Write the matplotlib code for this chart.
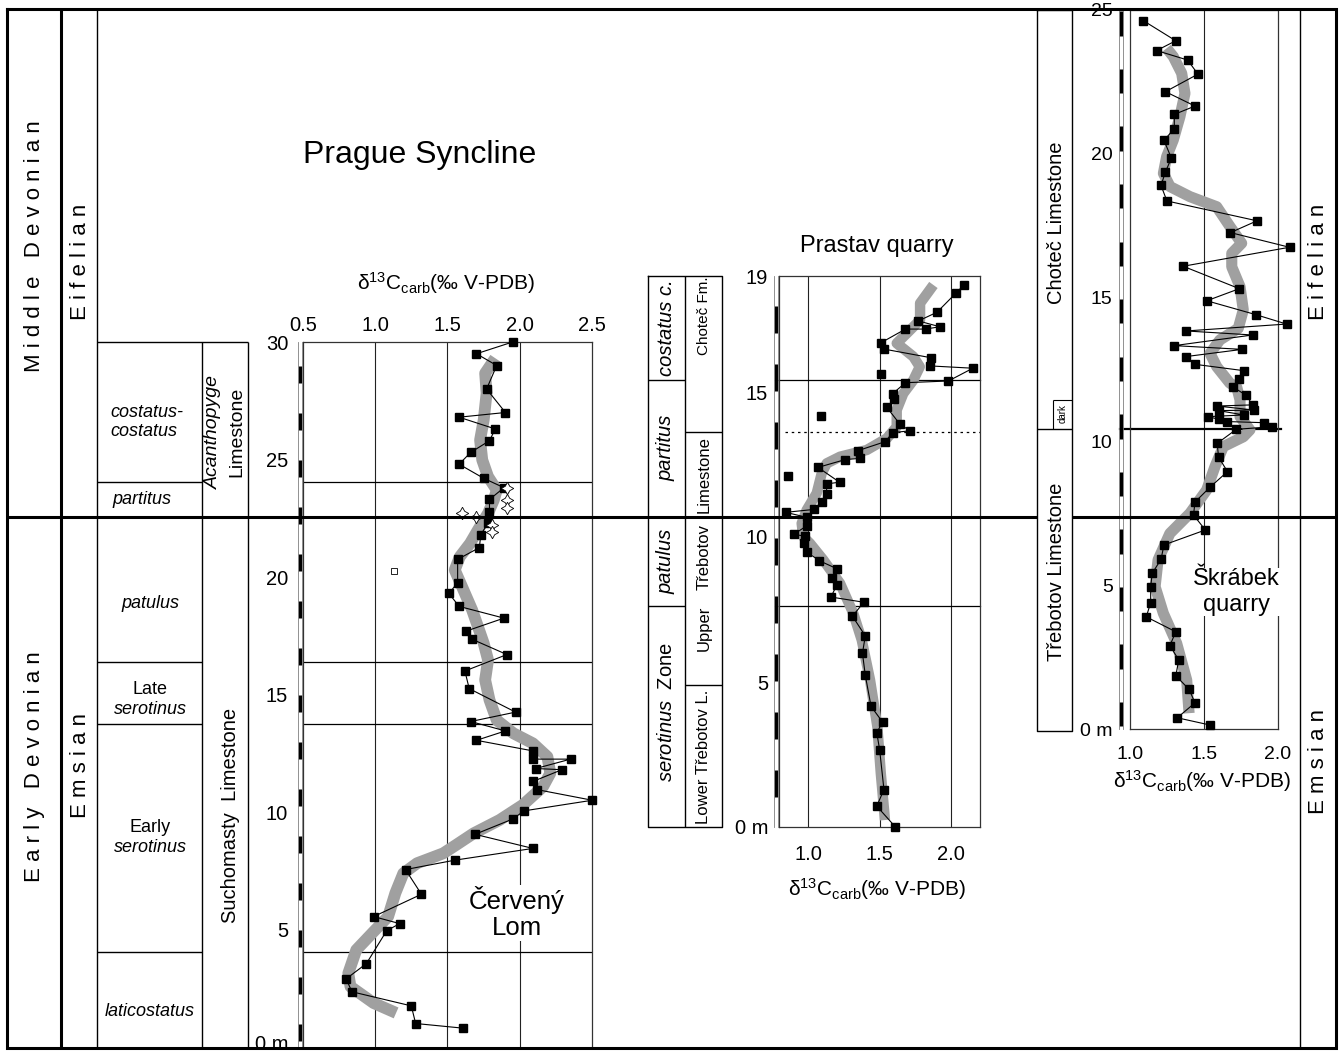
import matplotlib
matplotlib.use("Agg")
import matplotlib.pyplot as plt
from matplotlib.transforms import ScaledTranslation

plt.rcParams['font.family'] = ['Liberation Sans', 'DejaVu Sans']
plt.rcParams['mathtext.fontset'] = 'custom'
plt.rcParams['mathtext.rm'] = 'Liberation Sans'
plt.rcParams['mathtext.it'] = 'Liberation Sans:italic'
plt.rcParams['mathtext.default'] = 'regular'

# ---------------- Červený Lom section ----------------
cl_d13c = [1.61, 1.28, 1.25, 0.84, 0.80, 0.94, 1.08, 1.17, 0.99, 1.32,
           1.21, 1.55, 2.09, 1.69, 1.95, 2.03, 2.50, 2.12, 2.09, 2.29,
           2.11, 2.35, 2.09, 2.09, 1.70, 1.90, 1.66, 1.97, 1.65, 1.62,
           1.91, 1.67, 1.63, 1.89, 1.58, 1.51, 1.57, 1.57, 1.72, 1.73,
           1.78, 1.79, 1.79, 1.89, 1.75, 1.58, 1.66, 1.79, 1.83, 1.58,
           1.90, 1.77, 1.84, 1.70, 1.95]
cl_depth = [0.8, 1.0, 1.75, 2.35, 2.9, 3.55, 4.95, 5.25, 5.55, 6.5,
            7.55, 7.95, 8.45, 9.05, 9.7, 10.05, 10.5, 10.95, 11.3, 11.8,
            11.85, 12.25, 12.25, 12.6, 13.05, 13.45, 13.85, 14.25, 15.25, 16.0,
            16.7, 17.35, 17.7, 18.25, 18.75, 19.3, 19.76, 20.75, 21.25, 21.8,
            22.3, 22.75, 23.3, 23.8, 24.2, 24.8, 25.3, 25.8, 26.3, 26.8,
            27.0, 28.0, 29.0, 29.5, 30.0]
cl_trend_d13c = [1.145, 0.99, 0.83, 0.815, 0.87, 0.99, 1.09, 1.14, 1.195, 1.29,
                 1.47, 1.56, 1.68, 1.86, 2.02, 2.16, 2.21, 2.19, 2.09, 1.955,
                 1.84, 1.79, 1.76, 1.78, 1.75, 1.71, 1.67, 1.61, 1.55, 1.585,
                 1.656, 1.71, 1.78, 1.82, 1.84, 1.78, 1.74, 1.725, 1.75, 1.77,
                 1.76, 1.83]
cl_trend_depth = [1.45, 1.87, 2.57, 3.14, 4.13, 4.91, 5.55, 6.55, 7.39, 7.82,
                  8.24, 8.6, 9.09, 9.66, 10.3, 11.08, 11.65, 12.35, 12.92, 13.35,
                  13.91, 14.77, 15.62, 16.47, 17.18, 17.89, 18.6, 19.45, 20.3, 20.86,
                  21.43, 22.0, 22.71, 23.28, 23.7, 24.27, 24.98, 25.83, 26.68, 27.82,
                  28.67, 29.31]
cl_star_d13c = [1.91, 1.91, 1.91, 1.60, 1.70, 1.81, 1.81]
cl_star_depth = [23.77, 23.28, 22.92, 22.71, 22.57, 22.21, 21.90]
cl_open_d13c = [1.13]
cl_open_depth = [20.27]
cl_zone_bounds = [4.03, 13.75, 16.4, 24.05]
cl_xticks = [0.5, 1.0, 1.5, 2.0, 2.5]
cl_yticks = [0, 5, 10, 15, 20, 25, 30]

# ---------------- Prastav quarry ----------------
pr_d13c = [1.61, 1.48, 1.53, 1.50, 1.48, 1.52, 1.44, 1.40, 1.38, 1.40,
           1.31, 1.39, 1.16, 1.20, 1.17, 1.20, 1.08, 0.99, 0.97, 0.98,
           0.90, 0.99, 0.99, 0.845, 1.04, 1.10, 1.13, 1.13, 1.22, 1.07,
           1.26, 1.36, 1.35, 1.54, 1.59, 1.71, 1.64, 1.55, 1.60, 1.59,
           1.68, 1.98, 2.15, 1.85, 1.86, 1.53, 1.51, 1.68, 1.82, 1.92,
           1.77, 1.90, 2.03, 2.09]
pr_depth = [0.0, 0.72, 1.29, 2.66, 3.25, 3.62, 4.16, 5.23, 5.99, 6.59,
            7.27, 7.75, 7.93, 8.33, 8.6, 8.91, 9.18, 9.49, 9.8, 10.03,
            10.09, 10.38, 10.68, 10.85, 10.95, 11.22, 11.5, 11.83, 11.89, 12.4,
            12.67, 12.71, 12.98, 13.29, 13.6, 13.66, 13.9, 14.47, 14.75, 14.94,
            15.32, 15.38, 15.82, 15.9, 16.18, 16.48, 16.7, 17.17, 17.17, 17.25,
            17.45, 17.75, 18.4, 18.7]
pr_single_d13c = [1.51, 1.09, 0.86]
pr_single_depth = [15.62, 14.17, 12.1]
pr_trend_d13c = [1.537, 1.508, 1.484, 1.433, 1.375, 1.316, 1.224, 1.107, 1.014, 0.967,
                 0.956, 0.991, 1.061, 1.096, 1.131, 1.224, 1.41, 1.55, 1.619, 1.619,
                 1.665, 1.735, 1.78, 1.735, 1.619, 1.689, 1.782, 1.782, 1.875]
pr_trend_depth = [0.24, 1.85, 3.46, 5.07, 6.45, 7.37, 8.4, 9.21, 9.78, 10.01,
                  10.47, 10.93, 11.51, 12.2, 12.54, 12.77, 13.0, 13.4, 13.8, 14.38,
                  14.95, 15.41, 15.87, 16.22, 16.68, 17.02, 17.48, 18.06, 18.69]
pr_zone_bounds = [7.63, 15.41]       # patulus/serotinus, costatus/partitus
pr_fm_bounds = [4.9, 13.62]          # Lower/Upper Třebotov, Třebotov/Choteč
pr_xticks = [1.0, 1.5, 2.0]
pr_yticks = [0, 5, 10, 15, 19]

# ---------------- Škrábek quarry ----------------
sk_d13c = [1.54, 1.32, 1.44, 1.40, 1.31, 1.33, 1.27, 1.31, 1.11, 1.14,
           1.14, 1.15, 1.21, 1.23, 1.51, 1.43, 1.44, 1.54, 1.66, 1.60,
           1.59, 1.72, 1.96, 1.91, 1.66, 1.60, 1.53, 1.77, 1.60, 1.84,
           1.59, 1.83, 1.785, 1.70, 1.74, 1.77, 1.44, 1.38, 1.76, 1.30,
           1.83, 1.38, 2.06, 1.85, 1.52, 1.74, 1.36, 2.08, 1.68, 1.86,
           1.25, 1.21, 1.24, 1.28, 1.23, 1.30, 1.30, 1.44, 1.24, 1.46,
           1.39, 1.18, 1.31, 1.09]
sk_depth = [0.14, 0.39, 0.91, 1.38, 1.85, 2.4, 2.9, 3.38, 3.9, 4.39,
            4.93, 5.41, 5.9, 6.4, 6.92, 7.44, 7.89, 8.4, 8.95, 9.45,
            9.93, 10.42, 10.51, 10.65, 10.69, 10.77, 10.86, 10.92, 11.07, 11.09,
            11.23, 11.27, 11.61, 11.88, 12.16, 12.46, 12.68, 12.95, 13.2, 13.33,
            13.7, 13.84, 14.08, 14.41, 14.89, 15.31, 16.09, 16.75, 17.26, 17.67,
            18.36, 18.9, 19.37, 19.85, 20.47, 20.87, 21.37, 21.66, 22.16, 22.77,
            23.26, 23.59, 23.93, 24.63]
sk_trend_d13c = [1.40, 1.384, 1.316, 1.226, 1.17, 1.19, 1.27, 1.406, 1.519, 1.575,
                 1.632, 1.767, 1.812, 1.745, 1.745, 1.722, 1.677, 1.587, 1.542, 1.609,
                 1.733, 1.767, 1.745, 1.689, 1.689, 1.756, 1.677, 1.587, 1.406, 1.271,
                 1.226, 1.248, 1.293, 1.338, 1.372, 1.35, 1.293, 1.248]
sk_trend_depth = [0.55, 1.7, 2.98, 4.02, 4.95, 5.88, 6.8, 7.5, 8.31, 9.12,
                  9.82, 10.16, 10.4, 10.86, 11.44, 11.9, 12.02, 12.6, 13.06, 13.53,
                  13.93, 14.57, 15.38, 16.07, 16.54, 16.89, 17.47, 18.16, 18.51, 18.86,
                  19.32, 19.9, 20.48, 21.29, 22.1, 22.8, 23.38, 23.67]
sk_fm_bound = 10.44
sk_dark_top = 11.44
sk_xticks = [1.0, 1.5, 2.0]
sk_yticks = [0, 5, 10, 15, 20, 25]

XLABEL = 'δ$^{13}$C$_{carb}$(‰ V-PDB)'

W, H = 1340, 1052
fig = plt.figure(figsize=(W / 100, H / 100), dpi=100)


def add_px_axes(x0, y0, x1, y1):
    ax = fig.add_axes([x0 / W, 1 - y1 / H, (x1 - x0) / W, (y1 - y0) / H])
    ax.set_facecolor('none')
    return ax


def style_axes(ax, xlim, ylim, xticks, yticks, top, xpad, ypad, size):
    ax.set_xlim(*xlim)
    ax.set_ylim(*ylim)
    if top:
        ax.xaxis.tick_top()
    ax.set_xticks(xticks)
    ax.set_xticklabels([f'{t:.1f}' for t in xticks])
    ax.set_yticks(yticks)
    ax.set_yticklabels(['0 m' if t == 0 else str(t) for t in yticks])
    ax.tick_params(axis='x', length=0, pad=xpad, labelsize=size)
    ax.tick_params(axis='y', length=0, pad=ypad, labelsize=size)
    for s in ax.spines.values():
        s.set_linewidth(0.9)
        s.set_color('#333333')


def depth_bar(ax, px_offset, phase, seg_len):
    """Black/white metre bar beside the depth axis."""
    wpx = ax.get_position().width * W
    xf = px_offset / wpx
    tr = ax.get_yaxis_transform()
    y0, y1 = ax.get_ylim()
    for dx in (-2.0, 2.0):
        ax.plot([xf + dx / wpx] * 2, [y0, y1], transform=tr, color='0.5',
                lw=0.6, clip_on=False, zorder=4)
    k = 0
    while phase + 2 * k < y1:
        a = phase + 2 * k
        b = min(a + seg_len, y1)
        ax.plot([xf, xf], [a, b], transform=tr, color='k', lw=2.3,
                solid_capstyle='butt', clip_on=False, zorder=5)
        k += 1


def draw_series(ax, tx, ty, mx, my, band_lw, ms):
    ax.plot(tx, ty, color='#a0a0a0', lw=band_lw, solid_capstyle='butt',
            solid_joinstyle='round', zorder=2)
    ax.plot(mx, my, color='k', lw=0.8, marker='s', ms=ms, mfc='k', mec='k',
            zorder=3, clip_on=False)


TICK_SIZE = 14.5

# ---------- Červený Lom ----------
ax1 = add_px_axes(302.7, 342, 592.3, 1047)
style_axes(ax1, (0.5, 2.5), (0, 30), cl_xticks, cl_yticks, True, 5.0, 10.5, TICK_SIZE)
ax1.spines['bottom'].set_visible(False)
# lift the "0 m" label a little so it stays inside the frame
ax1.get_yticklabels()[0].set_transform(
    ax1.get_yticklabels()[0].get_transform() + ScaledTranslation(0, 5 / 100, fig.dpi_scale_trans))
for v in [1.0, 1.5, 2.0]:
    ax1.axvline(v, color='#222222', lw=0.8, zorder=1)
for d in cl_zone_bounds:
    ax1.axhline(d, color='k', lw=0.9, zorder=1)
draw_series(ax1, cl_trend_d13c, cl_trend_depth, cl_d13c, cl_depth, 8.5, 5.6)
ax1.plot(cl_star_d13c, cl_star_depth, ls='none', marker=(4, 1, 0), ms=9,
         mfc='white', mec='k', mew=0.6, zorder=4)
ax1.plot(cl_open_d13c, cl_open_depth, ls='none', marker='s', ms=4,
         mfc='white', mec='k', mew=0.6, zorder=4)
depth_bar(ax1, -2.7, 0.25, 0.75)

# ---------- Prastav quarry ----------
ax2 = add_px_axes(779.3, 276, 980, 827)
style_axes(ax2, (0.8, 2.2), (0, 19), pr_xticks, pr_yticks, False, 13, 8, TICK_SIZE)
for v in [1.0, 1.5, 2.0]:
    ax2.axvline(v, color='#222222', lw=0.8, zorder=1)
tr2 = ax2.get_yaxis_transform()
ax2.plot([-0.02, 1], [pr_zone_bounds[1]] * 2, transform=tr2, color='k', lw=0.9,
         clip_on=False, zorder=1)
ax2.plot([-0.02, 1], [pr_zone_bounds[0]] * 2, transform=tr2, color='k', lw=0.9,
         clip_on=False, zorder=1)
ax2.plot([0.03, 1], [pr_fm_bounds[1]] * 2, transform=tr2, color='k', lw=0.9,
         ls=(0, (2, 3)), zorder=1)
draw_series(ax2, pr_trend_d13c, pr_trend_depth, pr_d13c, pr_depth, 7.5, 5.4)
ax2.plot(pr_single_d13c, pr_single_depth, ls='none', marker='s', ms=5.4,
         mfc='k', mec='k', zorder=3)
depth_bar(ax2, -3.3, 1.05, 0.9)

# ---------- Škrábek quarry ----------
ax3 = add_px_axes(1130, 10, 1277.7, 729)
style_axes(ax3, (1.0, 2.0), (0, 25), sk_xticks, sk_yticks, False, 12.5, 12.5, 14)
ax3.axvline(1.5, color='#222222', lw=0.8, zorder=1)
tr3 = ax3.get_yaxis_transform()
ax3.plot([-0.07, 1.02], [sk_fm_bound] * 2, transform=tr3, color='k', lw=1.6,
         clip_on=False, zorder=1)
draw_series(ax3, sk_trend_d13c, sk_trend_depth, sk_d13c, sk_depth, 8, 5.4)
depth_bar(ax3, -9.3, 0.1, 0.85)

# ---------- frame, columns and labels ----------
ov = fig.add_axes([0, 0, 1, 1], zorder=10)
ov.set_xlim(0, W)
ov.set_ylim(H, 0)
ov.axis('off')
ov.set_facecolor('none')


def py(ax, depth):
    return H - ax.transData.transform((ax.get_xlim()[0], depth))[1]


def hline(x0, x1, y, lw=1.0, **kw):
    ov.plot([x0, x1], [y, y], color='k', lw=lw, solid_capstyle='butt', **kw)


def vline(x, y0, y1, lw=1.0, **kw):
    ov.plot([x, x], [y0, y1], color='k', lw=lw, solid_capstyle='butt', **kw)


# outer frame and stage columns
ov.plot([6.5, 1335.5, 1335.5, 6.5, 6.5], [8.5, 8.5, 1048, 1048, 8.5],
        color='k', lw=2.2, solid_joinstyle='miter')
vline(61, 8.5, 1048, lw=2.2)
vline(97, 8.5, 1048, lw=1.0)
vline(1300, 8.5, 1048, lw=1.0)

# stage boundary (Emsian / Eifelian)
y_stage = 517
sk_box = (1037, 1072)
hline(6.5, sk_box[0], y_stage, lw=2.2)
hline(sk_box[1], 1335.5, y_stage, lw=2.2)

# Červený Lom zone and formation columns
y30 = py(ax1, 30)
hline(97, 248, y30, lw=1.0)
vline(202, y30, 1048, lw=1.0)
vline(248, y30, 1048, lw=1.0)
for d in cl_zone_bounds:
    hline(97, 202, py(ax1, d), lw=1.0)

# Prastav columns
pt, pb = py(ax2, 19), py(ax2, 0)
ov.plot([648, 722, 722, 648, 648], [pt, pt, pb, pb, pt], color='k', lw=1.0)
vline(685, pt, pb, lw=1.0)
for d in pr_zone_bounds:
    hline(648, 685, py(ax2, d), lw=1.0)
for d in pr_fm_bounds:
    hline(685, 722, py(ax2, d), lw=1.0)

# Škrábek column
st, sb = py(ax3, 25), py(ax3, 0) + 2
ov.plot([sk_box[0], sk_box[1], sk_box[1], sk_box[0], sk_box[0]], [st, st, sb, sb, st],
        color='k', lw=1.0)
hline(sk_box[0], sk_box[1], py(ax3, sk_fm_bound), lw=1.0)
vline(1053, py(ax3, sk_dark_top), py(ax3, sk_fm_bound), lw=0.8)
hline(1053, sk_box[1], py(ax3, sk_dark_top), lw=0.8)


def spaced(text):
    return '   '.join(' '.join(w) for w in text.split())


def vtext(x, y, s, size, **kw):
    ov.text(x, y, s, rotation=90, ha='center', va='center', fontsize=size,
            rotation_mode='anchor', **kw)


# stage / series labels
vtext(35, 246, spaced('Middle Devonian'), 16)
vtext(35, 767, spaced('Early Devonian'), 16)
vtext(80, 262, spaced('Eifelian'), 16)
vtext(80, 765, spaced('Emsian'), 16)
vtext(1319, 262, spaced('Eifelian'), 16)
vtext(1319, 762, spaced('Emsian'), 16)

# conodont zones, Červený Lom
ov.text(110, 422, 'costatus-\ncostatus', ha='left', va='center', fontsize=13,
        style='italic', linespacing=1.1)
ov.text(142, 500, 'partitus', ha='center', va='center', fontsize=13, style='italic')
ov.text(150, 603, 'patulus', ha='center', va='center', fontsize=13, style='italic')
ov.text(150, 690, 'Late', ha='center', va='center', fontsize=13)
ov.text(150, 710, 'serotinus', ha='center', va='center', fontsize=13, style='italic')
ov.text(150, 828, 'Early', ha='center', va='center', fontsize=13)
ov.text(150, 847, 'serotinus', ha='center', va='center', fontsize=13, style='italic')
ov.text(150, 1011, 'laticostatus', ha='center', va='center', fontsize=13, style='italic')
vtext(213, 432, 'Acanthopyge', 14, style='italic')
vtext(237, 432, 'Limestone', 14)
vtext(230, 815, 'Suchomasty  Limestone', 14.5)

# Prastav columns
vtext(666, 328, 'costatus c.', 14.5, style='italic')
vtext(666, 448, 'partitus', 14.5, style='italic')
vtext(666, 561, 'patulus', 14.5, style='italic')
vtext(666, 712, r'$\mathit{serotinus}$  Zone', 14.5)
vtext(704, 316, 'Choteč Fm.', 11)
vtext(704, 475, 'Limestone', 12)
vtext(704, 557, 'Třebotov', 12)
vtext(704, 628, 'Upper', 12)
vtext(704, 757, 'Lower Třebotov L.', 12)

# Škrábek column
vtext(1056, 223, 'Choteč Limestone', 14.5)
vtext(1063, 414, 'dark', 7)
vtext(1056, 572, 'Třebotov Limestone', 14.5)

# titles and axis captions
ov.text(420, 155, 'Prague Syncline', ha='center', va='center', fontsize=23)
ov.text(877, 246, 'Prastav quarry', ha='center', va='center', fontsize=17)
ov.text(517, 913, 'Červený\nLom', ha='center', va='center', fontsize=18.5,
        linespacing=1.1, bbox=dict(fc='white', ec='none', pad=1))
ov.text(1236, 592, 'Škrábek\nquarry', ha='center', va='center', fontsize=17,
        linespacing=1.2, bbox=dict(fc='white', ec='none', pad=0.5))
ov.text(446, 283, XLABEL, ha='center', va='center', fontsize=15)
ov.text(877, 889, XLABEL, ha='center', va='center', fontsize=15)
ov.text(1202, 781, XLABEL, ha='center', va='center', fontsize=15)

fig.savefig('out.png', dpi=100, facecolor='white')
